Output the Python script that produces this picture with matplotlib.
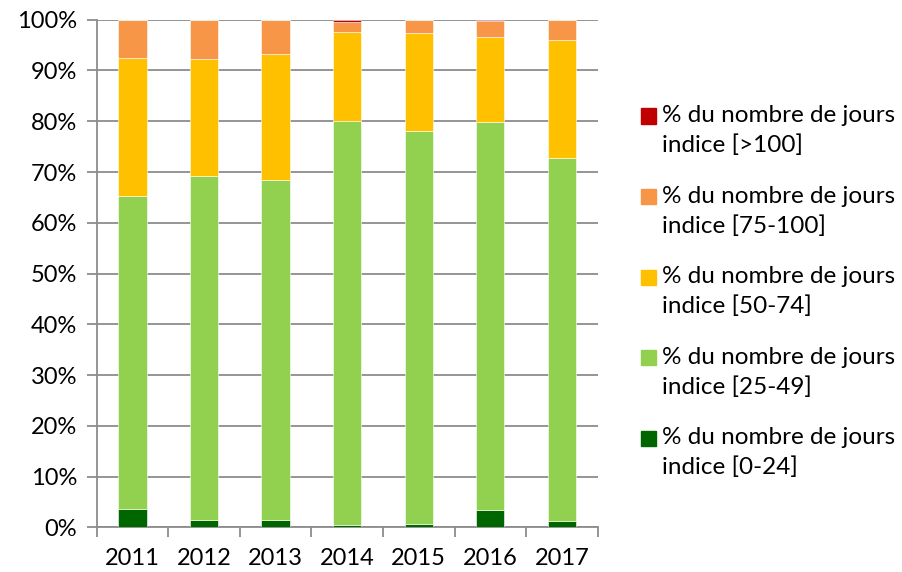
import matplotlib
matplotlib.use("Agg")
import matplotlib.pyplot as plt
from matplotlib.patches import Rectangle
from matplotlib.ticker import PercentFormatter, FixedLocator
import numpy as np

plt.rcParams["font.family"] = ["Lato", "DejaVu Sans"]

years = ["2011", "2012", "2013", "2014", "2015", "2016", "2017"]

# share of days per index class (%), bottom to top
idx_0_24 = [3.7, 1.5, 1.5, 0.4, 0.75, 3.45, 1.2]
idx_25_49 = [61.6, 67.7, 67.0, 79.6, 77.35, 76.35, 71.5]
idx_50_74 = [27.1, 23.1, 24.7, 17.6, 19.2, 16.7, 23.3]
idx_75_100 = [7.6, 7.7, 6.8, 1.9, 2.7, 3.2, 4.0]
idx_gt_100 = [0.0, 0.0, 0.0, 0.5, 0.0, 0.3, 0.0]

labels = [
    "% du nombre de jours\nindice [0-24]",
    "% du nombre de jours\nindice [25-49]",
    "% du nombre de jours\nindice [50-74]",
    "% du nombre de jours\nindice [75-100]",
    "% du nombre de jours\nindice [>100]",
]
colors = ["#006600", "#92D050", "#FFC000", "#F79646", "#C00000"]
series = [idx_0_24, idx_25_49, idx_50_74, idx_75_100, idx_gt_100]

fig = plt.figure(figsize=(9.03, 5.72), dpi=100)
ax = fig.add_axes([0.1071, 0.0778, 0.5548, 0.8878])

x = np.arange(len(years))
bottom = np.zeros(len(years))
for vals, col in zip(series, colors):
    ax.bar(x, vals, bottom=bottom, width=0.395, color=col,
           edgecolor="white", linewidth=0.4, zorder=3)
    bottom += np.array(vals)

grid_col = "#8c8c8c"
ax.set_ylim(0, 100)
ax.set_xlim(-0.5, len(years) - 0.5)
ax.yaxis.set_major_locator(FixedLocator(np.arange(0, 101, 10)))
ax.yaxis.set_major_formatter(PercentFormatter(decimals=0))
ax.grid(axis="y", color=grid_col, linewidth=1.3, zorder=0)

ax.set_xticks(x)
ax.set_xticklabels(years)
ax.xaxis.set_minor_locator(FixedLocator(np.arange(-0.5, len(years), 1)))
ax.tick_params(axis="x", which="major", length=0, pad=15, labelsize=17)
ax.tick_params(axis="x", which="minor", length=7, width=1.3, color=grid_col)
ax.tick_params(axis="y", length=7, width=1.3, color=grid_col, pad=7, labelsize=17)

for s in ["top", "right"]:
    ax.spines[s].set_visible(False)
for s in ["left", "bottom"]:
    ax.spines[s].set_color(grid_col)
    ax.spines[s].set_linewidth(1.3)

# legend, top entry is the highest class
W, H = 903, 572
for i, (lab, col) in enumerate(zip(labels[::-1], colors[::-1])):
    y_line = 116 + i * 80.5
    fig.patches.append(Rectangle((641 / W, 1 - (y_line + 7.5) / H), 15 / W, 15 / H,
                                 transform=fig.transFigure, color=col))
    fig.text(662 / W, 1 - (y_line - 11) / H, lab, fontsize=17.5, va="top",
             ha="left", linespacing=1.5)

fig.savefig("out.png", dpi=100)
